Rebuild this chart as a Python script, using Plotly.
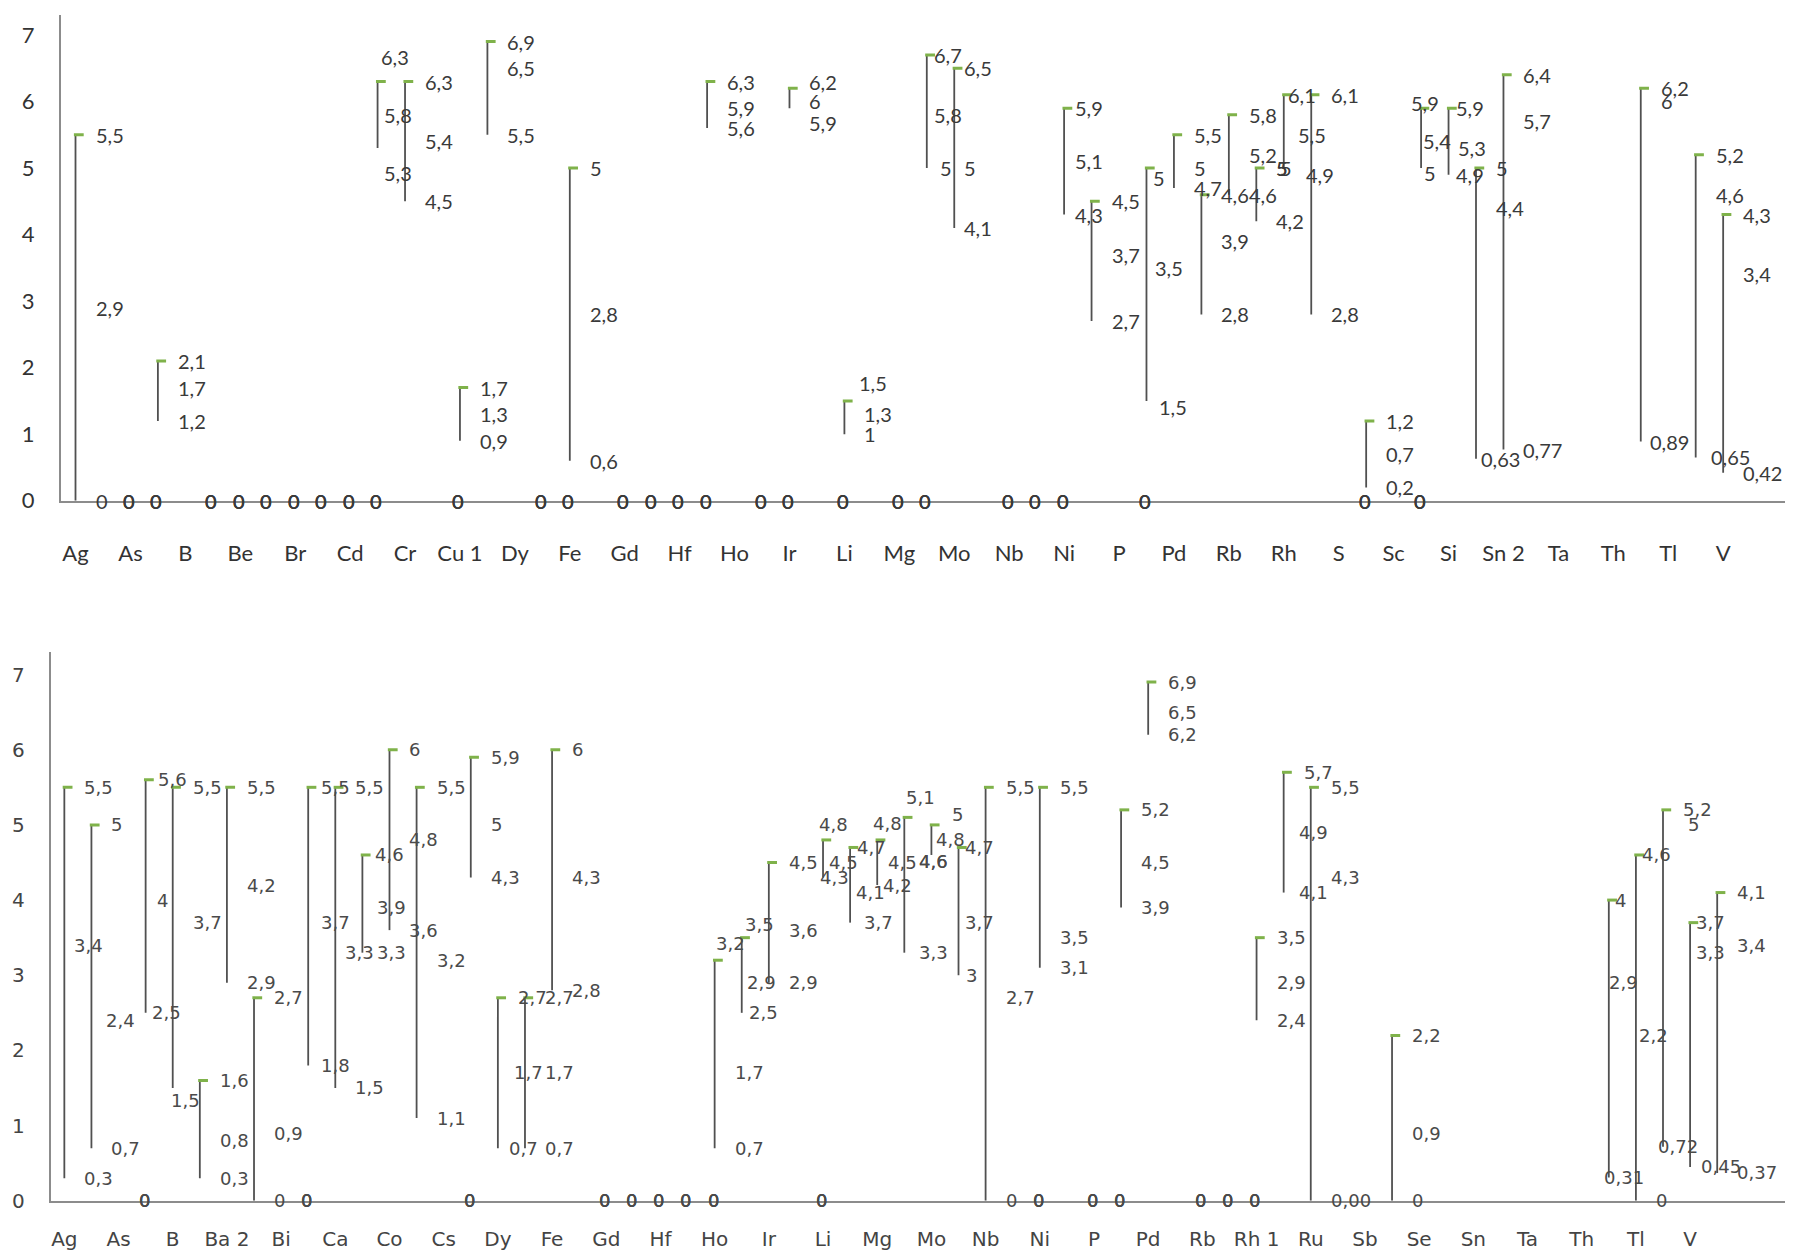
import plotly.graph_objects as go

# ---------------- top panel: one value per category (None = empty) ----------------
TOP_TICKS = ['Ag', 'As', 'B', 'Be', 'Br', 'Cd', 'Cr', 'Cu 1', 'Dy', 'Fe', 'Gd', 'Hf',
             'Ho', 'Ir', 'Li', 'Mg', 'Mo', 'Nb', 'Ni', 'P', 'Pd', 'Rb', 'Rh', 'S',
             'Sc', 'Si', 'Sn 2', 'Ta', 'Th', 'Tl', 'V']

TOP_HIGH = [5.5, 0, 0, 2.1, 0, 0, 0, 0, 0, 0,
            0, 6.3, 6.3, 0, 1.7, 6.9, 0, 0, 5, 0,
            0, 0, 0, 6.3, 0, 0, 6.2, 0, 1.5, 0,
            0, 6.7, 6.5, 0, 0, 0, 5.9, 4.5, 0, 5,
            5.5, 4.6, 5.8, 5, 6.1, 6.1, 0, 1.2, 0, 5.9,
            5.9, 5, 6.4, None, None, None, None, 6.2, None, 5.2, 4.3]
TOP_MID = [2.9, 0, 0, 1.7, 0, 0, 0, 0, 0, 0,
           0, 5.8, 5.4, 0, 1.3, 6.5, 0, 0, 2.8, 0,
           0, 0, 0, 5.9, 0, 0, 6, 0, 1.3, 0,
           0, 5.8, 5, 0, 0, 0, 5.1, 3.7, 0, 3.5,
           5, 3.9, 5.2, 5, 5.5, 4.9, 0, 0.7, 0, 5.4,
           5.3, 4.4, 5.7, None, None, None, None, 6, None, 4.6, 3.4]
TOP_LOW = [0, 0, 0, 1.2, 0, 0, 0, 0, 0, 0,
           0, 5.3, 4.5, 0, 0.9, 5.5, 0, 0, 0.6, 0,
           0, 0, 0, 5.6, 0, 0, 5.9, 0, 1, 0,
           0, 5, 4.1, 0, 0, 0, 4.3, 2.7, 0, 1.5,
           4.7, 2.8, 4.6, 4.2, 5, 2.8, 0, 0.2, 0, 5,
           4.9, 0.63, 0.77, None, None, None, None, 0.89, None, 0.65, 0.42]

# ---------------- bottom panel ----------------
BOT_TICKS = ['Ag', 'As', 'B', 'Ba 2', 'Bi', 'Ca', 'Co', 'Cs', 'Dy', 'Fe', 'Gd', 'Hf',
             'Ho', 'Ir', 'Li', 'Mg', 'Mo', 'Nb', 'Ni', 'P', 'Pd', 'Rb', 'Rh 1', 'Ru',
             'Sb', 'Se', 'Sn', 'Ta', 'Th', 'Tl', 'V']

BOT_HIGH = [5.5, 5, 0, 5.6, 5.5, 1.6, 5.5, 2.7, 0, 5.5,
            5.5, 4.6, 6, 5.5, 0, 5.9, 2.7, 2.7, 6, 0,
            0, 0, 0, 0, 3.2, 3.5, 4.5, 0, 4.8, 4.7,
            4.8, 5.1, 5, 4.7, 5.5, 0, 5.5, 0, 0, 5.2,
            6.9, 0, 0, 0, 3.5, 5.7, 5.5, None, None, 2.2,
            None, None, None, None, None, None, None, 4, 4.6, 5.2, 3.7, 4.1]
BOT_MID = [3.4, 2.4, 0, 4, 3.7, 0.8, 4.2, 0.9, 0, 3.7,
           3.3, 3.9, 4.8, 3.2, 0, 5, 1.7, 1.7, 4.3, 0,
           0, 0, 0, 0, 1.7, 2.9, 3.6, 0, 4.5, 4.1,
           4.5, 4.6, 4.8, 3.7, 2.7, 0, 3.5, 0, 0, 4.5,
           6.5, 0, 0, 0, 2.9, 4.9, 4.3, None, None, 0.9,
           None, None, None, None, None, None, None, 2.9, 2.2, 5, 3.3, 3.4]
BOT_LOW = [0.3, 0.7, 0, 2.5, 1.5, 0.3, 2.9, 0, 0, 1.8,
           1.5, 3.3, 3.6, 1.1, 0, 4.3, 0.7, 0.7, 2.8, 0,
           0, 0, 0, 0, 0.7, 2.5, 2.9, 0, 4.3, 3.7,
           4.2, 3.3, 4.6, 3, 0, 0, 3.1, 0, 0, 3.9,
           6.2, 0, 0, 0, 2.4, 4.1, 0, None, None, 0,
           None, None, None, None, None, None, None, 0.31, 0, 0.72, 0.45, 0.37]

# label text that is not the plain value
BOT_TEXT = {(46, 2): '0,00'}

# label nudges in px, (category, series 0/1/2) -> (dx, dy)
TOP_NUDGE = {
    (11, 0): (-17, 25), (11, 1): (-14, 0), (11, 2): (-14, -25),
    (26, 0): (0, 6), (26, 2): (0, -15),
    (28, 0): (-5, 18),
    (31, 0): (-13, 0), (31, 1): (-13, 0), (31, 2): (-7, 0),
    (32, 0): (-10, 0), (32, 1): (-10, 0), (32, 2): (-10, 0),
    (36, 0): (-9, 0), (36, 1): (-9, 0), (36, 2): (-9, 0),
    (39, 0): (-13, -10), (39, 1): (-11, 0), (39, 2): (-7, -6),
    (44, 0): (-16, 0), (44, 1): (-6, 0), (44, 2): (-24, 0),
    (45, 1): (-25, 0),
    (49, 0): (-30, 5), (49, 1): (-18, 0), (49, 2): (-17, -5),
    (50, 0): (-13, 0), (50, 1): (-11, 0), (50, 2): (-13, 0),
    (51, 2): (-15, 0), (57, 2): (-11, 0), (59, 2): (-5, 0),
}
BOT_NUDGE = {
    (0, 1): (-10, 0), (1, 1): (-5, 0),
    (3, 0): (-8, 0), (3, 1): (-9, 0), (3, 2): (-14, 0),
    (4, 2): (-22, -13),
    (9, 0): (-7, 0), (9, 1): (-7, 0), (9, 2): (-7, 0),
    (10, 1): (-10, 0),
    (11, 0): (-7, 0), (11, 1): (-5, 0), (11, 2): (-5, 0),
    (16, 1): (-4, 0), (16, 2): (-9, 0),
    (24, 0): (-19, 17),
    (25, 0): (-17, 13), (25, 1): (-15, 0), (25, 2): (-13, 0),
    (28, 0): (-24, 15), (28, 1): (-14, 0), (28, 2): (-23, 0),
    (29, 0): (-13, 0), (29, 1): (-14, 0), (29, 2): (-6, 0),
    (30, 0): (-24, 16), (30, 1): (-9, 0), (30, 2): (-14, 0),
    (31, 0): (-18, 20), (31, 1): (-5, -7), (31, 2): (-5, 0),
    (32, 0): (1, 10), (32, 1): (-15, 0), (32, 2): (-32, -7),
    (33, 0): (-14, 0), (33, 1): (-14, 0), (33, 2): (-13, 0),
    (45, 1): (-5, 0), (45, 2): (-5, 0),
    (57, 0): (-14, 0), (57, 1): (-20, 0), (57, 2): (-25, 0),
    (58, 0): (-14, 0), (58, 1): (-17, 0),
    (59, 1): (5, 0), (59, 2): (-25, 0),
    (60, 0): (-14, 0), (60, 1): (-14, 0), (60, 2): (-9, 0),
}

LINE_GRAY = '#505050'
AXIS_GRAY = '#8c8c8c'
GREEN = '#7fb24a'
LABEL_DX = 18
MARK_SHIFT = 0.12

TOP_LABEL_FONT = dict(family='Lato, sans-serif', size=20, color='#3a3a3a')
TOP_TICK_FONT = dict(family='Lato, sans-serif', size=22, color='#333333')
BOT_LABEL_FONT = dict(family='DejaVu Sans, sans-serif', size=18, color='#4a4a4a')
BOT_TICK_FONT = dict(family='DejaVu Sans, sans-serif', size=20, color='#444444')


def fmt(v):
    return f'{v:g}'.replace('.', ',')


def add_panel(fig, high, mid, low, xref, yref, nudge, text_over, font):
    xs, ys = [], []
    for i, (h, l) in enumerate(zip(high, low)):
        if h is None:
            continue
        xs += [i, i, None]
        ys += [l, h, None]
    fig.add_trace(go.Scatter(
        x=xs, y=ys, mode='lines', xaxis=xref, yaxis=yref,
        line=dict(color=LINE_GRAY, width=1.8), hoverinfo='skip'
    ))
    mx = [i + MARK_SHIFT for i, h in enumerate(high) if h]
    my = [h for h in high if h]
    fig.add_trace(go.Scatter(
        x=mx, y=my, mode='markers', xaxis=xref, yaxis=yref,
        marker=dict(symbol='line-ew', size=7, line=dict(color=GREEN, width=3)),
        hoverinfo='skip'
    ))
    for s, series in enumerate((high, mid, low)):
        for i, v in enumerate(series):
            if v is None:
                continue
            dx, dy = nudge.get((i, s), (0, 0))
            fig.add_annotation(
                x=i, y=v, xref=xref, yref=yref,
                text=text_over.get((i, s), fmt(v)),
                showarrow=False, xanchor='left', yanchor='middle',
                xshift=LABEL_DX + dx, yshift=dy, font=font
            )


fig = go.Figure()
add_panel(fig, TOP_HIGH, TOP_MID, TOP_LOW, 'x', 'y', TOP_NUDGE, {}, TOP_LABEL_FONT)
add_panel(fig, BOT_HIGH, BOT_MID, BOT_LOW, 'x2', 'y2', BOT_NUDGE, BOT_TEXT, BOT_LABEL_FONT)

axis_common = dict(showgrid=False, zeroline=False, showline=True, linecolor=AXIS_GRAY,
                   linewidth=2, ticks='', automargin=False, fixedrange=True)

# page body keeps an 8px margin, so the figure is 16px smaller than the window
fig.update_layout(
    width=1783, height=1244, autosize=False,
    margin=dict(l=0, r=0, t=0, b=0),
    paper_bgcolor='white', plot_bgcolor='white',
    showlegend=False,
    xaxis=dict(**axis_common, domain=[0.0297, 0.9966], anchor='y',
               range=[-0.53, 62.25],
               tickmode='array', tickvals=list(range(0, 2 * len(TOP_TICKS), 2)),
               ticktext=TOP_TICKS, tickfont=TOP_TICK_FONT, ticklabelstandoff=32),
    yaxis=dict(**axis_common, domain=[0.6039, 0.9944], anchor='x',
               range=[0, 7.3], tickmode='linear', tick0=0, dtick=1,
               tickfont=TOP_TICK_FONT, ticklabelstandoff=20),
    xaxis2=dict(**axis_common, domain=[0.0240, 0.9966], anchor='y2',
                range=[-0.5, 63.5],
                tickmode='array', tickvals=list(range(0, 2 * len(BOT_TICKS), 2)),
                ticktext=BOT_TICKS, tickfont=BOT_TICK_FONT, ticklabelstandoff=19),
    yaxis2=dict(**axis_common, domain=[0.0412, 0.4823], anchor='x2',
                range=[0, 7.3], tickmode='linear', tick0=0, dtick=1,
                tickfont=BOT_TICK_FONT, ticklabelstandoff=20),
)

fig.write_html('out.html')
